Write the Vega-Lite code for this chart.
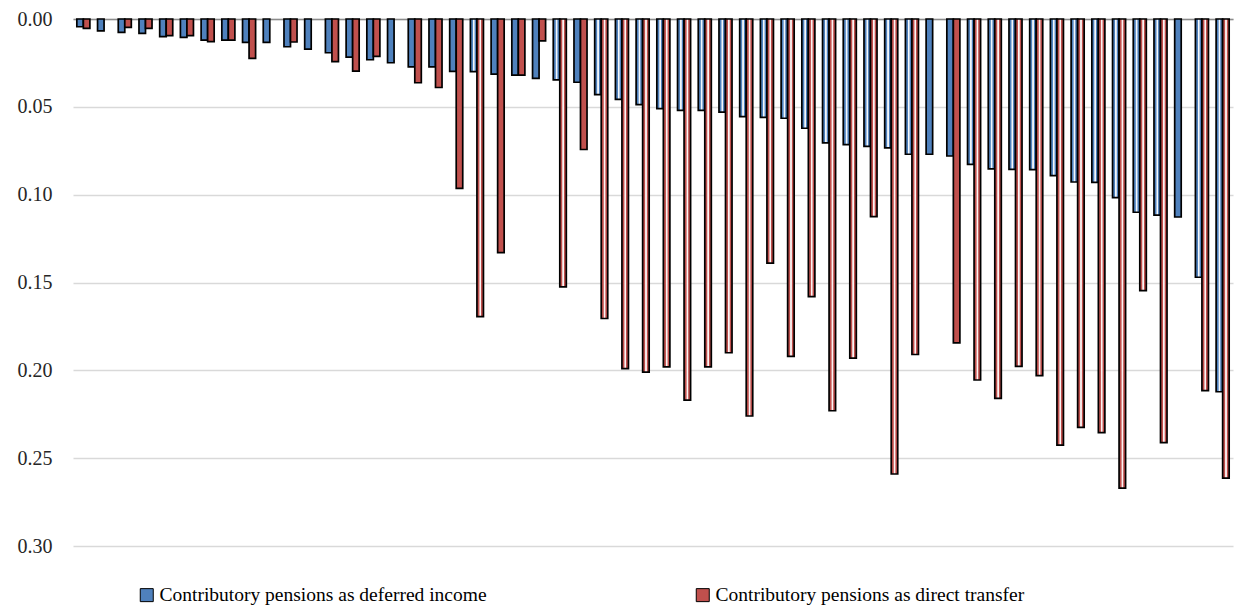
{
  "$schema": "https://vega.github.io/schema/vega-lite/v6.json",
  "autosize": {"type": "none"},
  "padding": {"left": 73, "top": 19, "right": 2, "bottom": 65},
  "width": 1160,
  "height": 527,
  "background": "#ffffff",
  "config": {
    "view": {"stroke": null},
    "font": "Liberation Serif"
  },
  "data": {
    "values": [
      {"c": 1, "s": "Contributory pensions as deferred income", "v": 0.0044, "h": 0},
      {"c": 1, "s": "Contributory pensions as direct transfer", "v": 0.0053, "h": 0},
      {"c": 2, "s": "Contributory pensions as deferred income", "v": 0.0068, "h": 0},
      {"c": 3, "s": "Contributory pensions as deferred income", "v": 0.0076, "h": 0},
      {"c": 3, "s": "Contributory pensions as direct transfer", "v": 0.0048, "h": 0},
      {"c": 4, "s": "Contributory pensions as deferred income", "v": 0.0082, "h": 0},
      {"c": 4, "s": "Contributory pensions as direct transfer", "v": 0.0053, "h": 0},
      {"c": 5, "s": "Contributory pensions as deferred income", "v": 0.0100, "h": 0},
      {"c": 5, "s": "Contributory pensions as direct transfer", "v": 0.0095, "h": 0},
      {"c": 6, "s": "Contributory pensions as deferred income", "v": 0.0105, "h": 0},
      {"c": 6, "s": "Contributory pensions as direct transfer", "v": 0.0095, "h": 0},
      {"c": 7, "s": "Contributory pensions as deferred income", "v": 0.0120, "h": 0},
      {"c": 7, "s": "Contributory pensions as direct transfer", "v": 0.0129, "h": 0},
      {"c": 8, "s": "Contributory pensions as deferred income", "v": 0.0120, "h": 0},
      {"c": 8, "s": "Contributory pensions as direct transfer", "v": 0.0120, "h": 0},
      {"c": 9, "s": "Contributory pensions as deferred income", "v": 0.0133, "h": 0},
      {"c": 9, "s": "Contributory pensions as direct transfer", "v": 0.0224, "h": 0},
      {"c": 10, "s": "Contributory pensions as deferred income", "v": 0.0133, "h": 0},
      {"c": 11, "s": "Contributory pensions as deferred income", "v": 0.0158, "h": 0},
      {"c": 11, "s": "Contributory pensions as direct transfer", "v": 0.0131, "h": 0},
      {"c": 12, "s": "Contributory pensions as deferred income", "v": 0.0171, "h": 0},
      {"c": 13, "s": "Contributory pensions as deferred income", "v": 0.0192, "h": 0},
      {"c": 13, "s": "Contributory pensions as direct transfer", "v": 0.0243, "h": 0},
      {"c": 14, "s": "Contributory pensions as deferred income", "v": 0.0217, "h": 0},
      {"c": 14, "s": "Contributory pensions as direct transfer", "v": 0.0297, "h": 0},
      {"c": 15, "s": "Contributory pensions as deferred income", "v": 0.0232, "h": 0},
      {"c": 15, "s": "Contributory pensions as direct transfer", "v": 0.0213, "h": 0},
      {"c": 16, "s": "Contributory pensions as deferred income", "v": 0.0249, "h": 0},
      {"c": 17, "s": "Contributory pensions as deferred income", "v": 0.0272, "h": 0},
      {"c": 17, "s": "Contributory pensions as direct transfer", "v": 0.0363, "h": 0},
      {"c": 18, "s": "Contributory pensions as deferred income", "v": 0.0272, "h": 0},
      {"c": 18, "s": "Contributory pensions as direct transfer", "v": 0.0390, "h": 0},
      {"c": 19, "s": "Contributory pensions as deferred income", "v": 0.0298, "h": 0},
      {"c": 19, "s": "Contributory pensions as direct transfer", "v": 0.0964, "h": 0},
      {"c": 20, "s": "Contributory pensions as deferred income", "v": 0.0300, "h": 1},
      {"c": 20, "s": "Contributory pensions as direct transfer", "v": 0.1694, "h": 1},
      {"c": 21, "s": "Contributory pensions as deferred income", "v": 0.0314, "h": 0},
      {"c": 21, "s": "Contributory pensions as direct transfer", "v": 0.1330, "h": 0},
      {"c": 22, "s": "Contributory pensions as deferred income", "v": 0.0319, "h": 0},
      {"c": 22, "s": "Contributory pensions as direct transfer", "v": 0.0319, "h": 0},
      {"c": 23, "s": "Contributory pensions as deferred income", "v": 0.0338, "h": 0},
      {"c": 23, "s": "Contributory pensions as direct transfer", "v": 0.0125, "h": 0},
      {"c": 24, "s": "Contributory pensions as deferred income", "v": 0.0346, "h": 1},
      {"c": 24, "s": "Contributory pensions as direct transfer", "v": 0.1525, "h": 1},
      {"c": 25, "s": "Contributory pensions as deferred income", "v": 0.0360, "h": 0},
      {"c": 25, "s": "Contributory pensions as direct transfer", "v": 0.0743, "h": 0},
      {"c": 26, "s": "Contributory pensions as deferred income", "v": 0.0430, "h": 1},
      {"c": 26, "s": "Contributory pensions as direct transfer", "v": 0.1705, "h": 1},
      {"c": 27, "s": "Contributory pensions as deferred income", "v": 0.0458, "h": 1},
      {"c": 27, "s": "Contributory pensions as direct transfer", "v": 0.1990, "h": 1},
      {"c": 28, "s": "Contributory pensions as deferred income", "v": 0.0487, "h": 1},
      {"c": 28, "s": "Contributory pensions as direct transfer", "v": 0.2010, "h": 1},
      {"c": 29, "s": "Contributory pensions as deferred income", "v": 0.0510, "h": 1},
      {"c": 29, "s": "Contributory pensions as direct transfer", "v": 0.1980, "h": 1},
      {"c": 30, "s": "Contributory pensions as deferred income", "v": 0.0520, "h": 1},
      {"c": 30, "s": "Contributory pensions as direct transfer", "v": 0.2170, "h": 1},
      {"c": 31, "s": "Contributory pensions as deferred income", "v": 0.0520, "h": 1},
      {"c": 31, "s": "Contributory pensions as direct transfer", "v": 0.1980, "h": 1},
      {"c": 32, "s": "Contributory pensions as deferred income", "v": 0.0530, "h": 1},
      {"c": 32, "s": "Contributory pensions as direct transfer", "v": 0.1900, "h": 1},
      {"c": 33, "s": "Contributory pensions as deferred income", "v": 0.0556, "h": 1},
      {"c": 33, "s": "Contributory pensions as direct transfer", "v": 0.2260, "h": 1},
      {"c": 34, "s": "Contributory pensions as deferred income", "v": 0.0560, "h": 1},
      {"c": 34, "s": "Contributory pensions as direct transfer", "v": 0.1390, "h": 1},
      {"c": 35, "s": "Contributory pensions as deferred income", "v": 0.0565, "h": 1},
      {"c": 35, "s": "Contributory pensions as direct transfer", "v": 0.1920, "h": 1},
      {"c": 36, "s": "Contributory pensions as deferred income", "v": 0.0622, "h": 1},
      {"c": 36, "s": "Contributory pensions as direct transfer", "v": 0.1580, "h": 1},
      {"c": 37, "s": "Contributory pensions as deferred income", "v": 0.0705, "h": 1},
      {"c": 37, "s": "Contributory pensions as direct transfer", "v": 0.2230, "h": 1},
      {"c": 38, "s": "Contributory pensions as deferred income", "v": 0.0715, "h": 1},
      {"c": 38, "s": "Contributory pensions as direct transfer", "v": 0.1930, "h": 1},
      {"c": 39, "s": "Contributory pensions as deferred income", "v": 0.0725, "h": 1},
      {"c": 39, "s": "Contributory pensions as direct transfer", "v": 0.1125, "h": 1},
      {"c": 40, "s": "Contributory pensions as deferred income", "v": 0.0734, "h": 1},
      {"c": 40, "s": "Contributory pensions as direct transfer", "v": 0.2590, "h": 1},
      {"c": 41, "s": "Contributory pensions as deferred income", "v": 0.0770, "h": 1},
      {"c": 41, "s": "Contributory pensions as direct transfer", "v": 0.1910, "h": 1},
      {"c": 42, "s": "Contributory pensions as deferred income", "v": 0.0770, "h": 0},
      {"c": 43, "s": "Contributory pensions as deferred income", "v": 0.0780, "h": 0},
      {"c": 43, "s": "Contributory pensions as direct transfer", "v": 0.1844, "h": 0},
      {"c": 44, "s": "Contributory pensions as deferred income", "v": 0.0827, "h": 1},
      {"c": 44, "s": "Contributory pensions as direct transfer", "v": 0.2055, "h": 1},
      {"c": 45, "s": "Contributory pensions as deferred income", "v": 0.0853, "h": 1},
      {"c": 45, "s": "Contributory pensions as direct transfer", "v": 0.2160, "h": 1},
      {"c": 46, "s": "Contributory pensions as deferred income", "v": 0.0856, "h": 1},
      {"c": 46, "s": "Contributory pensions as direct transfer", "v": 0.1977, "h": 1},
      {"c": 47, "s": "Contributory pensions as deferred income", "v": 0.0857, "h": 1},
      {"c": 47, "s": "Contributory pensions as direct transfer", "v": 0.2030, "h": 1},
      {"c": 48, "s": "Contributory pensions as deferred income", "v": 0.0892, "h": 1},
      {"c": 48, "s": "Contributory pensions as direct transfer", "v": 0.2426, "h": 1},
      {"c": 49, "s": "Contributory pensions as deferred income", "v": 0.0928, "h": 1},
      {"c": 49, "s": "Contributory pensions as direct transfer", "v": 0.2325, "h": 1},
      {"c": 50, "s": "Contributory pensions as deferred income", "v": 0.0930, "h": 1},
      {"c": 50, "s": "Contributory pensions as direct transfer", "v": 0.2355, "h": 1},
      {"c": 51, "s": "Contributory pensions as deferred income", "v": 0.1017, "h": 1},
      {"c": 51, "s": "Contributory pensions as direct transfer", "v": 0.2670, "h": 1},
      {"c": 52, "s": "Contributory pensions as deferred income", "v": 0.1100, "h": 1},
      {"c": 52, "s": "Contributory pensions as direct transfer", "v": 0.1546, "h": 1},
      {"c": 53, "s": "Contributory pensions as deferred income", "v": 0.1116, "h": 1},
      {"c": 53, "s": "Contributory pensions as direct transfer", "v": 0.2412, "h": 1},
      {"c": 54, "s": "Contributory pensions as deferred income", "v": 0.1127, "h": 0},
      {"c": 55, "s": "Contributory pensions as deferred income", "v": 0.1470, "h": 1},
      {"c": 55, "s": "Contributory pensions as direct transfer", "v": 0.2116, "h": 1},
      {"c": 56, "s": "Contributory pensions as deferred income", "v": 0.2122, "h": 1},
      {"c": 56, "s": "Contributory pensions as direct transfer", "v": 0.2614, "h": 1}
    ]
  },
  "mark": {"type": "bar", "stroke": "#000000", "strokeWidth": 1.7},
  "encoding": {
    "x": {
      "field": "c",
      "type": "ordinal",
      "scale": {"paddingInner": 0.37, "paddingOuter": 0.185},
      "axis": {
        "orient": "top",
        "labels": false,
        "ticks": false,
        "title": null,
        "domainColor": "#8c8c8c",
        "domainWidth": 1.5,
        "grid": false
      }
    },
    "xOffset": {
      "field": "s",
      "type": "nominal",
      "scale": {"domain": ["Contributory pensions as deferred income", "Contributory pensions as direct transfer"], "paddingInner": 0, "paddingOuter": 0}
    },
    "y": {
      "field": "v",
      "type": "quantitative",
      "scale": {"domain": [0, 0.3], "reverse": true, "nice": false},
      "axis": {
        "values": [0, 0.05, 0.1, 0.15, 0.2, 0.25, 0.3],
        "format": ".2f",
        "title": null,
        "domain": false,
        "ticks": false,
        "labelFont": "Liberation Serif",
        "labelFontSize": 20,
        "labelColor": "#262626",
        "labelPadding": 21,
        "gridColor": "#d9d9d9",
        "gridWidth": 1.5
      }
    },
    "fill": {
      "field": "s",
      "type": "nominal",
      "scale": {
        "domain": ["Contributory pensions as deferred income", "Contributory pensions as direct transfer"],
        "range": ["#4F81BD", "#C0504D"]
      },
      "condition": [
        {
          "test": "datum.h == 1 && datum.s == 'Contributory pensions as deferred income'",
          "value": {
            "gradient": "linear", "x1": 0, "y1": 0, "x2": 1, "y2": 0,
            "stops": [
              {"offset": 0, "color": "#4F81BD"},
              {"offset": 0.32, "color": "#4F81BD"},
              {"offset": 0.45, "color": "#f4f7fb"},
              {"offset": 0.58, "color": "#f4f7fb"},
              {"offset": 0.7, "color": "#4F81BD"},
              {"offset": 1, "color": "#4F81BD"}
            ]
          }
        },
        {
          "test": "datum.h == 1",
          "value": {
            "gradient": "linear", "x1": 0, "y1": 0, "x2": 1, "y2": 0,
            "stops": [
              {"offset": 0, "color": "#C0504D"},
              {"offset": 0.32, "color": "#C0504D"},
              {"offset": 0.45, "color": "#fbf4f4"},
              {"offset": 0.58, "color": "#fbf4f4"},
              {"offset": 0.7, "color": "#C0504D"},
              {"offset": 1, "color": "#C0504D"}
            ]
          }
        }
      ],
      "legend": {
        "title": null,
        "orient": "none",
        "direction": "horizontal",
        "legendX": 64,
        "legendY": 566,
        "symbolType": "square",
        "symbolSize": 169,
        "symbolStrokeColor": "#000000",
        "symbolStrokeWidth": 1,
        "labelFont": "Liberation Serif",
        "labelFontSize": 19.5,
        "labelColor": "#000000",
        "labelOffset": 3,
        "labelLimit": 0,
        "columnPadding": 206
      }
    }
  }
}
